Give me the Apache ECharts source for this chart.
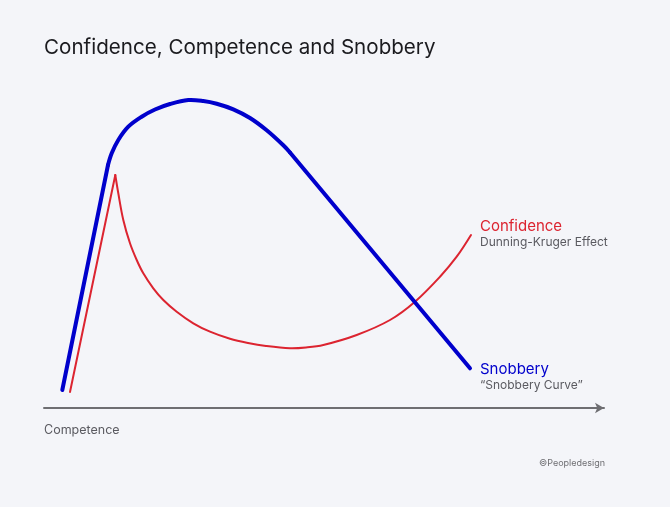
<!DOCTYPE html>
<html>
<head>
<meta charset="utf-8">
<script src="https://cdn.jsdelivr.net/npm/echarts@6/dist/echarts.min.js"></script>
<style>
html,body{margin:0;padding:0;background:#f4f5f9;}
#c{width:670px;height:507px;}
</style>
</head>
<body>
<div id="c"></div>
<script>
// Data (x: competence, y: level)
var confidenceRise = [[26,16],[71.3,233]];
var confidenceCurve = [[71.3,233],[74.3,214.7],[79.3,188],[86,164.7],[92.7,148],[99.3,134.7],[109.3,119.7],[119.3,108],[132.7,96.3],[149.3,84.7],[166,76.3],[186,69.2],[204,65],[222,62],[246,59.7],[262,60.5],[279.3,63],[312.7,73],[346,88],[371,106.3],[396,131.3],[412.7,151.3],[427,173]];
var snobberyRise = [[18.3,18],[64,243]];
var snobberyArc = [[64,243],[67.7,254.7],[74.3,268],[84.3,281.3],[97.7,291.3],[111,298.5],[126,304],[144.3,308],[159.3,307],[172.7,304.3],[189.3,298.7],[206,290],[222.7,277.7],[239.3,262.7],[246,255.5]];
var snobberyFall = [[246,255.5],[426,39.7]];
var titleText = 'Confidence, Competence and Snobbery';
var axisName = 'Competence';

var RED = '#dc2430';
var BLUE = '#0000cc';
var FONT = 'Inter, "Noto Sans", sans-serif';

// A series that draws its whole data array as one smooth curve through the axes' scales
function curveSeries(data, color, width, smooth, z) {
  return {
    type: 'custom',
    data: data,
    z: z,
    encode: {x: 0, y: 1},
    silent: true,
    renderItem: function (params, api) {
      if (params.dataIndex !== 0) return null;
      var pts = data.map(function (d) { return api.coord(d); });
      return {
        type: 'polyline',
        shape: {points: pts, smooth: smooth},
        style: {fill: null, stroke: color, lineWidth: width, lineCap: 'round', lineJoin: 'round'}
      };
    }
  };
}

var chart = echarts.init(document.getElementById('c'));
chart.setOption({
  backgroundColor: '#f4f5f9',
  animation: false,
  title: {
    text: titleText, left: 39, top: 32,
    textStyle: {fontFamily: FONT, fontSize: 20.6, fontWeight: 'normal', color: '#1b1b1f'}
  },
  grid: {left: 44, right: 66, top: 8, bottom: 99, containLabel: false},
  xAxis: {
    type: 'value', min: 0, max: 560,
    axisLine: {show: true, symbol: ['none', 'arrow'], symbolSize: [8, 9], lineStyle: {color: '#6e6e72', width: 2}},
    axisTick: {show: false}, axisLabel: {show: false}, splitLine: {show: false}
  },
  yAxis: {
    type: 'value', min: 0, max: 400,
    axisLine: {show: false}, axisTick: {show: false}, axisLabel: {show: false}, splitLine: {show: false}
  },
  series: [
    curveSeries(confidenceRise, RED, 2, 0, 2),
    curveSeries(confidenceCurve, RED, 2, 0.35, 2),
    curveSeries(snobberyRise, BLUE, 4, 0, 3),
    curveSeries(snobberyArc, BLUE, 4, 0.35, 3),
    curveSeries(snobberyFall, BLUE, 4, 0, 3)
  ],
  graphic: [
    {type: 'text', left: 480, top: 219, style: {text: 'Confidence', fill: RED, font: '15px ' + FONT}},
    {type: 'text', left: 480, top: 236, style: {text: 'Dunning-Kruger Effect', fill: '#5a5a60', font: '12px ' + FONT}},
    {type: 'text', left: 480, top: 362, style: {text: 'Snobbery', fill: BLUE, font: '15px ' + FONT}},
    {type: 'text', left: 480, top: 379, style: {text: '\u201CSnobbery Curve\u201D', fill: '#5a5a60', font: '12px ' + FONT}},
    {type: 'text', left: 44, top: 424, style: {text: axisName, fill: '#5a5a60', font: '12.5px ' + FONT}},
    {type: 'text', right: 65, top: 459, style: {text: '\u00A9Peopledesign', fill: '#6e6e72', font: '9px ' + FONT}}
  ]
});
</script>
</body>
</html>
